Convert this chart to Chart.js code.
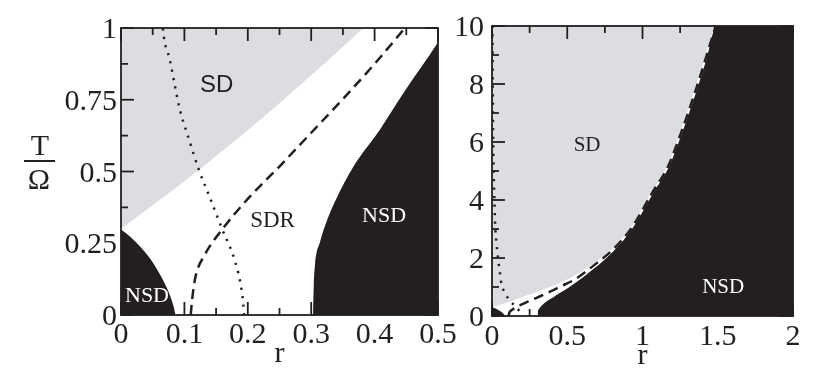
<!DOCTYPE html>
<html><head><meta charset="utf-8">
<script src="https://cdn.jsdelivr.net/npm/chart.js@4.4.1/dist/chart.umd.min.js"></script>
<style>
html,body{margin:0;padding:0;background:#fff;width:830px;height:386px;overflow:hidden}
#c1{position:absolute;left:0;top:0;width:460px;height:386px}
#c2{position:absolute;left:440px;top:0;width:390px;height:386px}
</style></head><body>
<canvas id="c1" width="460" height="386"></canvas>
<canvas id="c2" width="390" height="386"></canvas>
<script>
// ---------- data (r, T/Omega) ----------
// lower edge of the SD (grey) region
const grayR = [0, 0.05, 0.1, 0.15, 0.2, 0.25, 0.3, 0.35, 0.382, 0.5, 0.62, 0.8, 0.92, 1.06, 1.16, 1.24, 1.34, 1.41, 1.478];
const grayT = [0.3, 0.382, 0.466, 0.554, 0.644, 0.738, 0.835, 0.935, 1.0, 1.26, 1.62, 2.33, 3.04, 4.28, 5.14, 6.2, 7.7, 8.85, 10];
// upper-left edge of the large NSD (black) region
const blackR = [0.303, 0.304, 0.306, 0.314, 0.325, 0.34, 0.366, 0.408, 0.445, 0.5, 0.62, 0.8, 0.93, 1.075, 1.175, 1.255, 1.355, 1.425, 1.492, 2.0];
const blackT = [0, 0.1, 0.174, 0.255, 0.33, 0.407, 0.515, 0.645, 0.772, 0.95, 1.4, 2.2, 3.0, 4.28, 5.14, 6.2, 7.7, 8.85, 10, 10];
// small NSD region near the origin
const nsdR = [0, 0.015, 0.033, 0.047, 0.059, 0.069, 0.077, 0.083, 0.086];
const nsdT = [0.298, 0.272, 0.232, 0.193, 0.151, 0.11, 0.07, 0.03, 0];
// dashed curve
const dashR = [0.110, 0.112, 0.117, 0.132, 0.161, 0.201, 0.251, 0.30, 0.351, 0.40, 0.448, 0.55, 0.62, 0.70, 0.80, 0.925, 1.068, 1.168, 1.248, 1.348, 1.418, 1.486];
const dashT = [0, 0.05, 0.128, 0.209, 0.302, 0.407, 0.52, 0.635, 0.755, 0.875, 1.0, 1.26, 1.52, 1.84, 2.27, 3.02, 4.28, 5.14, 6.2, 7.7, 8.85, 10];
// dotted curve
const dotR = [0.003, 0.005, 0.008, 0.011, 0.016, 0.022, 0.03, 0.04, 0.055, 0.066, 0.077, 0.093, 0.106, 0.122, 0.14, 0.159, 0.18, 0.19, 0.193, 0.194];
const dotT = [10, 8, 6, 5, 4, 3, 2.5, 2.0, 1.4, 1.0, 0.889, 0.714, 0.621, 0.511, 0.41, 0.302, 0.186, 0.09, 0.035, 0];

// ticks
const leftXTicks = [0, 0.1, 0.2, 0.3, 0.4, 0.5];
const leftXLabels = ['0', '0.1', '0.2', '0.3', '0.4', '0.5'];
const leftXMinor = [0.05, 0.15, 0.25, 0.35, 0.45];
const leftYTicks = [0, 0.25, 0.5, 0.75, 1];
const leftYLabels = ['0', '0.25', '0.5', '0.75', '1'];
const leftYMinor = [0.125, 0.375, 0.625, 0.875];
const rightXTicks = [0, 0.5, 1, 1.5, 2];
const rightXLabels = ['0', '0.5', '1', '1.5', '2'];
const rightXMinor = [0.25, 0.75, 1.25, 1.75];
const rightYTicks = [0, 2, 4, 6, 8, 10];
const rightYLabels = ['0', '2', '4', '6', '8', '10'];
const rightYMinor = [1, 3, 5, 7, 9];

// region labels
const leftRegionText = ['SD', 'SDR', 'NSD', 'NSD'];
const rightRegionText = ['SD', 'NSD'];

// ---------- styles ----------
const INK = '#231f20', GRAY = '#dcdde0';
const SERIF = '"Liberation Serif", "Times New Roman", Times, serif';
const SANS = '"Liberation Sans", Arial, sans-serif';
Chart.defaults.font.family = SERIF;
Chart.defaults.color = INK;

const pts = (xs, ys) => xs.map((x, i) => ({x: x, y: ys[i]}));

function datasets() {
  return [
    {data: pts(grayR, grayT), fill: 'end', backgroundColor: GRAY, borderWidth: 0, order: 5},
    {data: pts(blackR, blackT), fill: 'origin', backgroundColor: INK, borderWidth: 0, order: 4},
    {data: pts(nsdR, nsdT), fill: 'origin', backgroundColor: INK, borderWidth: 0, order: 4},
    {data: pts(dashR, dashT), fill: false, borderColor: INK, borderWidth: 2.5, borderDash: [10, 6], order: 1},
    {data: pts(dotR, dotT), fill: false, borderColor: INK, borderWidth: 2.5, borderDash: [2.2, 6.3], order: 1}
  ].map(d => Object.assign({showLine: true, pointRadius: 0, cubicInterpolationMode: 'monotone'}, d));
}

const frameTicks = {
  id: 'frameTicks',
  afterDatasetsDraw(chart, args, o) {
    const {ctx, chartArea: a} = chart;
    const x = chart.scales.x, y = chart.scales.y;
    ctx.save();
    ctx.strokeStyle = INK;
    ctx.lineWidth = 1.8;
    const seg = (x1, y1, x2, y2) => { ctx.beginPath(); ctx.moveTo(x1, y1); ctx.lineTo(x2, y2); ctx.stroke(); };
    const xt = (vals, len) => vals.forEach(v => { const p = x.getPixelForValue(v); seg(p, a.bottom, p, a.bottom - len); seg(p, a.top, p, a.top + len); });
    const yt = (vals, len) => vals.forEach(v => { const p = y.getPixelForValue(v); seg(a.left, p, a.left + len, p); seg(a.right, p, a.right - len, p); });
    xt(o.xMajor, o.major); xt(o.xMinor, o.minor);
    yt(o.yMajor, o.major); yt(o.yMinor, o.minor);
    ctx.strokeRect(a.left, a.top, a.width, a.height);

    // tick labels, placed with the scales
    ctx.fillStyle = INK;
    ctx.font = o.tickFont;
    ctx.textBaseline = 'alphabetic';
    ctx.textAlign = 'right';
    y.ticks.forEach((t, i) => ctx.fillText(o.yLabels[i], a.left - o.yPad, y.getPixelForValue(t.value) + 10));
    ctx.textAlign = 'center';
    x.ticks.forEach((t, i) => ctx.fillText(o.xLabels[i], x.getPixelForValue(t.value), a.bottom + o.xBase));
    // axis title
    ctx.fillText('r', (a.left + a.right) / 2, a.bottom + o.titleBase);

    ctx.textBaseline = 'middle';
    (o.labels || []).forEach(L => {
      ctx.font = L.font; ctx.fillStyle = L.color;
      ctx.fillText(L.text, x.getPixelForValue(L.r), y.getPixelForValue(L.t));
    });
    if (o.fraction) {
      ctx.font = o.tickFont; ctx.fillStyle = INK;
      ctx.fillText('T', 40, 147);
      ctx.fillText('\u03A9', 39, 181);
      ctx.lineWidth = 2;
      seg(24, 161, 55, 161);
    }
    ctx.restore();
  }
};

function makeChart(id, cfg) {
  return new Chart(document.getElementById(id), {
    type: 'scatter',
    data: {datasets: datasets()},
    plugins: [frameTicks],
    options: {
      responsive: false, animation: false, events: [],
      layout: {padding: cfg.padding, autoPadding: false},
      plugins: {legend: {display: false}, tooltip: {enabled: false}, frameTicks: cfg.frame},
      scales: {
        x: {
          type: 'linear', min: cfg.xMin, max: cfg.xMax,
          afterBuildTicks: s => { s.ticks = cfg.xTicks.map(v => ({value: v})); },
          afterFit: s => { s.height = cfg.xHeight; },
          grid: {display: false, drawTicks: false}, border: {display: false},
          ticks: {display: false}
        },
        y: {
          type: 'linear', min: cfg.yMin, max: cfg.yMax,
          afterBuildTicks: s => { s.ticks = cfg.yTicks.map(v => ({value: v})); },
          afterFit: s => { s.width = cfg.yWidth; },
          grid: {display: false, drawTicks: false}, border: {display: false},
          ticks: {display: false}
        }
      }
    }
  });
}

makeChart('c1', {
  padding: {top: 28, right: 22, left: 0, bottom: 0},
  xMin: 0, xMax: 0.5, yMin: 0, yMax: 1,
  xTicks: leftXTicks, yTicks: leftYTicks,
  xHeight: 71, yWidth: 121,
  frame: {
    xMajor: leftXTicks, xMinor: leftXMinor, yMajor: leftYTicks, yMinor: leftYMinor, major: 13, minor: 7,
    xLabels: leftXLabels, yLabels: leftYLabels, tickFont: '30px ' + SERIF,
    yPad: 4, xBase: 28, titleBase: 47,
    fraction: true,
    labels: [
      {text: leftRegionText[0], r: 0.151, t: 0.8, font: '24px ' + SANS, color: INK},
      {text: leftRegionText[1], r: 0.239, t: 0.328, font: '23px ' + SERIF, color: INK},
      {text: leftRegionText[2], r: 0.415, t: 0.345, font: '22px ' + SERIF, color: '#ffffff'},
      {text: leftRegionText[3], r: 0.041, t: 0.066, font: '22px ' + SERIF, color: '#ffffff'}
    ]
  }
});

makeChart('c2', {
  padding: {top: 26, right: 37, left: 0, bottom: 0},
  xMin: 0, xMax: 2, yMin: 0, yMax: 10,
  xTicks: rightXTicks, yTicks: rightYTicks,
  xHeight: 70, yWidth: 52,
  frame: {
    xMajor: rightXTicks, xMinor: rightXMinor, yMajor: rightYTicks, yMinor: rightYMinor, major: 13, minor: 7,
    xLabels: rightXLabels, yLabels: rightYLabels, tickFont: '30px ' + SERIF,
    yPad: 8, xBase: 29, titleBase: 48,
    labels: [
      {text: rightRegionText[0], r: 0.632, t: 5.875, font: '21px ' + SERIF, color: INK},
      {text: rightRegionText[1], r: 1.536, t: 0.973, font: '21px ' + SERIF, color: '#ffffff'}
    ]
  }
});
</script>
</body></html>
